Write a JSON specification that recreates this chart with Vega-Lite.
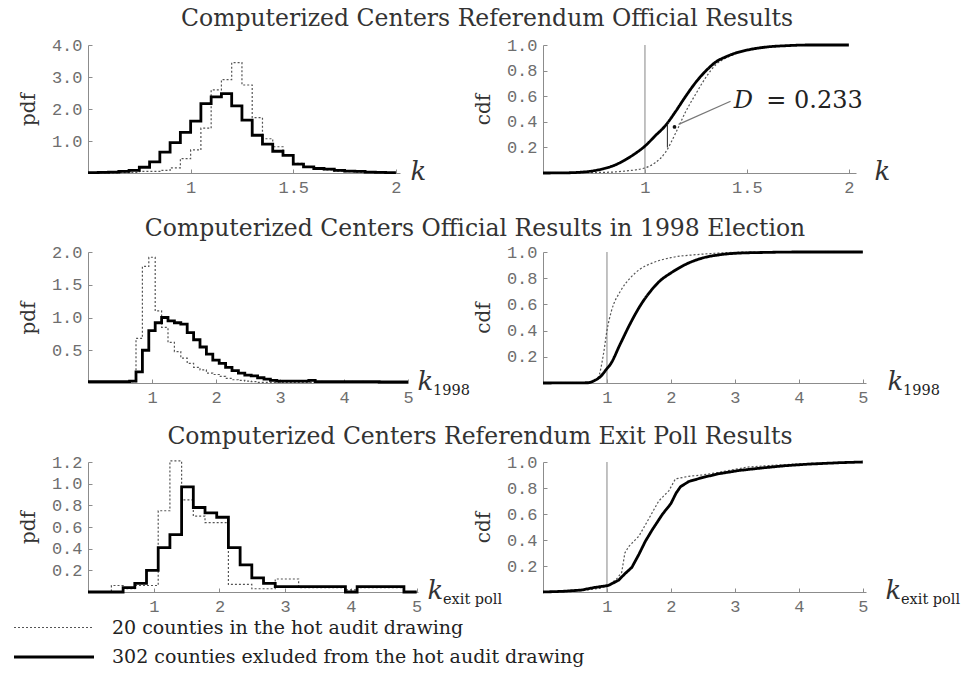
{
"$schema": "https://vega.github.io/schema/vega-lite/v6.json",
"background": "white",
"padding": {"left": 18, "top": 6, "right": 5, "bottom": 5},
"bounds": "flush",
"columns": 2,
"spacing": {"row": 79, "column": 125},
"datasets": {
"p1": [
{"x":0.5,"y":0,"g":"20"},{"x":0.55,"y":0,"g":"20"},{"x":0.6,"y":0,"g":"20"},{"x":0.65,"y":0.01,"g":"20"},{"x":0.7,"y":0.02,"g":"20"},{"x":0.75,"y":0.05,"g":"20"},{"x":0.8,"y":0.05,"g":"20"},{"x":0.85,"y":0.08,"g":"20"},{"x":0.9,"y":0.16,"g":"20"},{"x":0.95,"y":0.45,"g":"20"},{"x":1.0,"y":0.72,"g":"20"},{"x":1.05,"y":1.4,"g":"20"},{"x":1.1,"y":2.6,"g":"20"},{"x":1.15,"y":2.92,"g":"20"},{"x":1.2,"y":3.45,"g":"20"},{"x":1.25,"y":2.75,"g":"20"},{"x":1.3,"y":1.73,"g":"20"},{"x":1.35,"y":1.07,"g":"20"},{"x":1.4,"y":0.82,"g":"20"},{"x":1.45,"y":0.55,"g":"20"},{"x":1.5,"y":0.3,"g":"20"},{"x":1.55,"y":0.18,"g":"20"},{"x":1.6,"y":0.12,"g":"20"},{"x":1.65,"y":0.1,"g":"20"},{"x":1.7,"y":0.06,"g":"20"},{"x":1.75,"y":0.04,"g":"20"},{"x":1.8,"y":0.03,"g":"20"},{"x":1.85,"y":0.02,"g":"20"},{"x":1.9,"y":0.01,"g":"20"},{"x":1.95,"y":0,"g":"20"},{"x":2.0,"y":0,"g":"20"},
{"x":0.5,"y":0.01,"g":"302"},{"x":0.55,"y":0.02,"g":"302"},{"x":0.6,"y":0.03,"g":"302"},{"x":0.65,"y":0.05,"g":"302"},{"x":0.7,"y":0.08,"g":"302"},{"x":0.75,"y":0.18,"g":"302"},{"x":0.8,"y":0.35,"g":"302"},{"x":0.85,"y":0.65,"g":"302"},{"x":0.9,"y":0.95,"g":"302"},{"x":0.95,"y":1.27,"g":"302"},{"x":1.0,"y":1.62,"g":"302"},{"x":1.05,"y":2.17,"g":"302"},{"x":1.1,"y":2.38,"g":"302"},{"x":1.15,"y":2.48,"g":"302"},{"x":1.2,"y":2.1,"g":"302"},{"x":1.25,"y":1.65,"g":"302"},{"x":1.3,"y":1.18,"g":"302"},{"x":1.35,"y":0.9,"g":"302"},{"x":1.4,"y":0.68,"g":"302"},{"x":1.45,"y":0.55,"g":"302"},{"x":1.5,"y":0.28,"g":"302"},{"x":1.55,"y":0.19,"g":"302"},{"x":1.6,"y":0.14,"g":"302"},{"x":1.65,"y":0.12,"g":"302"},{"x":1.7,"y":0.08,"g":"302"},{"x":1.75,"y":0.06,"g":"302"},{"x":1.8,"y":0.05,"g":"302"},{"x":1.85,"y":0.03,"g":"302"},{"x":1.9,"y":0.02,"g":"302"},{"x":1.95,"y":0.01,"g":"302"},{"x":2.0,"y":0.01,"g":"302"}
],
"c1": [
{"x":0.5,"y":0,"g":"20"},{"x":0.8,"y":0.005,"g":"20"},{"x":0.9,"y":0.015,"g":"20"},{"x":1.0,"y":0.04,"g":"20"},{"x":1.05,"y":0.08,"g":"20"},{"x":1.1,"y":0.16,"g":"20"},{"x":1.15,"y":0.31,"g":"20"},{"x":1.2,"y":0.48,"g":"20"},{"x":1.25,"y":0.62,"g":"20"},{"x":1.3,"y":0.75,"g":"20"},{"x":1.35,"y":0.85,"g":"20"},{"x":1.4,"y":0.9,"g":"20"},{"x":1.45,"y":0.935,"g":"20"},{"x":1.5,"y":0.96,"g":"20"},{"x":1.6,"y":0.982,"g":"20"},{"x":1.7,"y":0.993,"g":"20"},{"x":1.8,"y":1.0,"g":"20"},{"x":2.0,"y":1.0,"g":"20"},
{"x":0.5,"y":0,"g":"302"},{"x":0.6,"y":0.001,"g":"302"},{"x":0.7,"y":0.008,"g":"302"},{"x":0.75,"y":0.018,"g":"302"},{"x":0.8,"y":0.035,"g":"302"},{"x":0.85,"y":0.06,"g":"302"},{"x":0.9,"y":0.1,"g":"302"},{"x":0.95,"y":0.15,"g":"302"},{"x":1.0,"y":0.21,"g":"302"},{"x":1.05,"y":0.29,"g":"302"},{"x":1.1,"y":0.37,"g":"302"},{"x":1.15,"y":0.48,"g":"302"},{"x":1.2,"y":0.6,"g":"302"},{"x":1.25,"y":0.71,"g":"302"},{"x":1.3,"y":0.8,"g":"302"},{"x":1.35,"y":0.87,"g":"302"},{"x":1.4,"y":0.91,"g":"302"},{"x":1.45,"y":0.94,"g":"302"},{"x":1.5,"y":0.96,"g":"302"},{"x":1.6,"y":0.985,"g":"302"},{"x":1.7,"y":0.995,"g":"302"},{"x":1.8,"y":1.0,"g":"302"},{"x":2.0,"y":1.0,"g":"302"}
],
"p2": [
{"x":0,"y":0.01,"g":"20"},{"x":0.65,"y":0.02,"g":"20"},{"x":0.75,"y":0.68,"g":"20"},{"x":0.85,"y":1.78,"g":"20"},{"x":0.95,"y":1.92,"g":"20"},{"x":1.05,"y":1.1,"g":"20"},{"x":1.15,"y":0.85,"g":"20"},{"x":1.25,"y":0.62,"g":"20"},{"x":1.35,"y":0.48,"g":"20"},{"x":1.45,"y":0.38,"g":"20"},{"x":1.55,"y":0.3,"g":"20"},{"x":1.65,"y":0.24,"g":"20"},{"x":1.75,"y":0.2,"g":"20"},{"x":1.85,"y":0.15,"g":"20"},{"x":1.95,"y":0.13,"g":"20"},{"x":2.05,"y":0.1,"g":"20"},{"x":2.15,"y":0.07,"g":"20"},{"x":2.25,"y":0.05,"g":"20"},{"x":2.35,"y":0.04,"g":"20"},{"x":2.45,"y":0.03,"g":"20"},{"x":2.55,"y":0.02,"g":"20"},{"x":2.65,"y":0.01,"g":"20"},{"x":5,"y":0.01,"g":"20"},
{"x":0,"y":0.02,"g":"302"},{"x":0.65,"y":0.03,"g":"302"},{"x":0.75,"y":0.17,"g":"302"},{"x":0.85,"y":0.5,"g":"302"},{"x":0.95,"y":0.8,"g":"302"},{"x":1.05,"y":0.92,"g":"302"},{"x":1.15,"y":1.0,"g":"302"},{"x":1.25,"y":0.95,"g":"302"},{"x":1.35,"y":0.92,"g":"302"},{"x":1.45,"y":0.9,"g":"302"},{"x":1.55,"y":0.77,"g":"302"},{"x":1.65,"y":0.66,"g":"302"},{"x":1.75,"y":0.55,"g":"302"},{"x":1.85,"y":0.44,"g":"302"},{"x":1.95,"y":0.35,"g":"302"},{"x":2.05,"y":0.3,"g":"302"},{"x":2.15,"y":0.24,"g":"302"},{"x":2.25,"y":0.19,"g":"302"},{"x":2.35,"y":0.15,"g":"302"},{"x":2.45,"y":0.12,"g":"302"},{"x":2.55,"y":0.11,"g":"302"},{"x":2.65,"y":0.08,"g":"302"},{"x":2.75,"y":0.06,"g":"302"},{"x":2.85,"y":0.04,"g":"302"},{"x":2.95,"y":0.03,"g":"302"},{"x":3.45,"y":0.04,"g":"302"},{"x":3.55,"y":0.02,"g":"302"},{"x":4.55,"y":0.015,"g":"302"},{"x":5,"y":0.015,"g":"302"}
],
"c2": [
{"x":0,"y":0,"g":"20"},{"x":0.7,"y":0.003,"g":"20"},{"x":0.76,"y":0.01,"g":"20"},{"x":0.86,"y":0.04,"g":"20"},{"x":0.945,"y":0.22,"g":"20"},{"x":1.0,"y":0.4,"g":"20"},{"x":1.07,"y":0.55,"g":"20"},{"x":1.21,"y":0.7,"g":"20"},{"x":1.36,"y":0.8,"g":"20"},{"x":1.52,"y":0.87,"g":"20"},{"x":1.73,"y":0.92,"g":"20"},{"x":2.0,"y":0.957,"g":"20"},{"x":2.4,"y":0.98,"g":"20"},{"x":2.8,"y":0.993,"g":"20"},{"x":3.2,"y":1.0,"g":"20"},{"x":5,"y":1.0,"g":"20"},
{"x":0,"y":0,"g":"302"},{"x":0.7,"y":0.002,"g":"302"},{"x":0.79,"y":0.015,"g":"302"},{"x":0.9,"y":0.05,"g":"302"},{"x":1.0,"y":0.11,"g":"302"},{"x":1.05,"y":0.14,"g":"302"},{"x":1.21,"y":0.3,"g":"302"},{"x":1.36,"y":0.45,"g":"302"},{"x":1.52,"y":0.59,"g":"302"},{"x":1.68,"y":0.7,"g":"302"},{"x":1.83,"y":0.78,"g":"302"},{"x":2.0,"y":0.84,"g":"302"},{"x":2.25,"y":0.91,"g":"302"},{"x":2.5,"y":0.955,"g":"302"},{"x":2.75,"y":0.978,"g":"302"},{"x":3.0,"y":0.99,"g":"302"},{"x":3.5,"y":0.997,"g":"302"},{"x":4.0,"y":1.0,"g":"302"},{"x":5,"y":1.0,"g":"302"}
],
"p3": [
{"x":0,"y":0,"g":"20"},{"x":0.356,"y":0.06,"g":"20"},{"x":0.534,"y":0.03,"g":"20"},{"x":0.712,"y":0.06,"g":"20"},{"x":0.89,"y":0.06,"g":"20"},{"x":1.068,"y":0.75,"g":"20"},{"x":1.246,"y":1.21,"g":"20"},{"x":1.424,"y":0.85,"g":"20"},{"x":1.602,"y":0.7,"g":"20"},{"x":1.78,"y":0.64,"g":"20"},{"x":1.958,"y":0.64,"g":"20"},{"x":2.136,"y":0.07,"g":"20"},{"x":2.314,"y":0.07,"g":"20"},{"x":2.492,"y":0.03,"g":"20"},{"x":2.67,"y":0.03,"g":"20"},{"x":2.848,"y":0.12,"g":"20"},{"x":3.026,"y":0.12,"g":"20"},{"x":3.204,"y":0.04,"g":"20"},{"x":3.916,"y":0.02,"g":"20"},{"x":4.094,"y":0.04,"g":"20"},{"x":4.806,"y":0,"g":"20"},{"x":5.0,"y":0,"g":"20"},
{"x":0,"y":0,"g":"302"},{"x":0.534,"y":0.04,"g":"302"},{"x":0.712,"y":0.08,"g":"302"},{"x":0.89,"y":0.2,"g":"302"},{"x":1.068,"y":0.41,"g":"302"},{"x":1.246,"y":0.53,"g":"302"},{"x":1.424,"y":0.97,"g":"302"},{"x":1.602,"y":0.78,"g":"302"},{"x":1.78,"y":0.73,"g":"302"},{"x":1.958,"y":0.69,"g":"302"},{"x":2.136,"y":0.41,"g":"302"},{"x":2.314,"y":0.25,"g":"302"},{"x":2.492,"y":0.13,"g":"302"},{"x":2.67,"y":0.08,"g":"302"},{"x":2.848,"y":0.05,"g":"302"},{"x":3.916,"y":0,"g":"302"},{"x":4.094,"y":0.05,"g":"302"},{"x":4.806,"y":0,"g":"302"},{"x":5.0,"y":0,"g":"302"}
],
"c3": [
{"x":0,"y":0,"g":"20"},{"x":0.6,"y":0.01,"g":"20"},{"x":0.9,"y":0.03,"g":"20"},{"x":1.02,"y":0.05,"g":"20"},{"x":1.15,"y":0.1,"g":"20"},{"x":1.23,"y":0.15,"g":"20"},{"x":1.28,"y":0.3,"g":"20"},{"x":1.34,"y":0.35,"g":"20"},{"x":1.5,"y":0.43,"g":"20"},{"x":1.65,"y":0.56,"g":"20"},{"x":1.81,"y":0.7,"g":"20"},{"x":1.97,"y":0.78,"g":"20"},{"x":2.07,"y":0.87,"g":"20"},{"x":2.28,"y":0.89,"g":"20"},{"x":2.49,"y":0.9,"g":"20"},{"x":2.75,"y":0.92,"g":"20"},{"x":3.18,"y":0.96,"g":"20"},{"x":3.6,"y":0.975,"g":"20"},{"x":4.2,"y":0.99,"g":"20"},{"x":5.0,"y":1.0,"g":"20"},
{"x":0,"y":0,"g":"302"},{"x":0.3,"y":0.005,"g":"302"},{"x":0.6,"y":0.015,"g":"302"},{"x":0.81,"y":0.035,"g":"302"},{"x":1.02,"y":0.05,"g":"302"},{"x":1.1,"y":0.07,"g":"302"},{"x":1.18,"y":0.09,"g":"302"},{"x":1.28,"y":0.14,"g":"302"},{"x":1.39,"y":0.19,"g":"302"},{"x":1.5,"y":0.29,"g":"302"},{"x":1.6,"y":0.39,"g":"302"},{"x":1.71,"y":0.48,"g":"302"},{"x":1.87,"y":0.6,"g":"302"},{"x":2.0,"y":0.68,"g":"302"},{"x":2.08,"y":0.76,"g":"302"},{"x":2.15,"y":0.81,"g":"302"},{"x":2.28,"y":0.85,"g":"302"},{"x":2.49,"y":0.88,"g":"302"},{"x":2.75,"y":0.91,"g":"302"},{"x":3.07,"y":0.935,"g":"302"},{"x":3.44,"y":0.955,"g":"302"},{"x":3.8,"y":0.972,"g":"302"},{"x":4.13,"y":0.983,"g":"302"},{"x":4.65,"y":0.995,"g":"302"},{"x":5.0,"y":1.0,"g":"302"}
]
},
"concat": [
{"width": 312, "height": 128,
"title": {"text": "Computerized Centers Referendum Official Results", "dx": 243, "offset": 6},
"layer": [
{"data": {"name": "p1"}, "mark": {"type": "line", "interpolate": "step-after"},
"encoding": {
"x": {"field": "x", "type": "quantitative", "scale": {"domain": [0.5, 2.02], "nice": false, "zero": false}, "axis": {"values": [1, 1.5, 2], "tickCount": 20, "format": "~g", "title": "k", "titleX": 322, "labelOverlap": false}},
"y": {"field": "y", "type": "quantitative", "scale": {"domain": [0, 4], "nice": false}, "axis": {"values": [1, 2, 3, 4], "tickCount": 20, "format": ".1f", "title": "pdf", "labelOverlap": false}},
"color": {"field": "g", "type": "ordinal", "scale": {"domain": ["20", "302"], "range": ["#555555", "#000000"]}, "legend": {"title": null, "orient": "none", "legendX": -45.5, "legendY": 571.5, "labelExpr": "datum.label == '20' ? '20 counties in the hot audit drawing' : '302 counties exluded from the hot audit drawing'"}},
"strokeDash": {"field": "g", "type": "ordinal", "scale": {"domain": ["20", "302"], "range": [[2, 2], [1, 0]]}, "legend": {"title": null, "orient": "none", "legendX": -45.5, "legendY": 571.5, "labelExpr": "datum.label == '20' ? '20 counties in the hot audit drawing' : '302 counties exluded from the hot audit drawing'"}},
"strokeWidth": {"field": "g", "type": "ordinal", "scale": {"domain": ["20", "302"], "range": [1.2, 2.8]}, "legend": {"title": null, "orient": "none", "legendX": -45.5, "legendY": 571.5, "labelExpr": "datum.label == '20' ? '20 counties in the hot audit drawing' : '302 counties exluded from the hot audit drawing'"}}
}}
]},
{"width": 313, "height": 128,
"layer": [
{"data": {"values": [{}]}, "mark": {"type": "rule", "color": "#999999", "strokeWidth": 1.2}, "encoding": {"x": {"datum": 1}, "y": {"datum": 0}, "y2": {"datum": 1}}},
{"data": {"name": "c1"}, "mark": {"type": "line", "interpolate": "monotone"},
"encoding": {
"x": {"field": "x", "type": "quantitative", "scale": {"domain": [0.5, 2.035], "nice": false, "zero": false}, "axis": {"values": [1, 1.5, 2], "tickCount": 20, "format": "~g", "title": "k", "titleX": 331, "labelOverlap": false}},
"y": {"field": "y", "type": "quantitative", "scale": {"domain": [0, 1], "nice": false}, "axis": {"values": [0.2, 0.4, 0.6, 0.8, 1], "tickCount": 20, "format": ".1f", "title": "cdf", "labelOverlap": false}},
"color": {"field": "g", "type": "ordinal", "scale": {"domain": ["20", "302"], "range": ["#555555", "#000000"]}},
"strokeDash": {"field": "g", "type": "ordinal", "scale": {"domain": ["20", "302"], "range": [[2, 2], [1, 0]]}},
"strokeWidth": {"field": "g", "type": "ordinal", "scale": {"domain": ["20", "302"], "range": [1.2, 2.8]}}
}},
{"data": {"values": [{}]}, "mark": {"type": "rule", "color": "#222222", "strokeWidth": 1}, "encoding": {"x": {"datum": 1.11}, "y": {"datum": 0.2}, "y2": {"datum": 0.385}}},
{"data": {"values": [{}]}, "mark": {"type": "rule", "color": "#777777", "strokeWidth": 1.2}, "encoding": {"x": {"datum": 1.165}, "y": {"datum": 0.38}, "x2": {"datum": 1.42}, "y2": {"datum": 0.56}}},
{"data": {"values": [{}]}, "mark": {"type": "point", "filled": true, "color": "#111111", "size": 14, "opacity": 1}, "encoding": {"x": {"datum": 1.145}, "y": {"datum": 0.36}}},
{"data": {"values": [{}]}, "mark": {"type": "text", "align": "left", "baseline": "alphabetic", "font": "DejaVu Serif", "fontStyle": "italic", "fontSize": 24, "color": "#222222"}, "encoding": {"x": {"datum": 1.435}, "y": {"datum": 0.505}, "text": {"value": "D"}}},
{"data": {"values": [{}]}, "mark": {"type": "text", "align": "left", "baseline": "alphabetic", "font": "DejaVu Serif", "fontSize": 24, "color": "#222222"}, "encoding": {"x": {"datum": 1.595}, "y": {"datum": 0.505}, "text": {"value": "= 0.233"}}}
]},
{"width": 320, "height": 131,
"title": {"text": "Computerized Centers Official Results in 1998 Election", "dx": 227, "offset": 3},
"layer": [
{"data": {"name": "p2"}, "mark": {"type": "line", "interpolate": "step-after"},
"encoding": {
"x": {"field": "x", "type": "quantitative", "scale": {"domain": [0, 5], "nice": false, "zero": false}, "axis": {"values": [1, 2, 3, 4, 5], "tickCount": 20, "format": "~g", "title": "k", "titleX": 329, "labelOverlap": false}},
"y": {"field": "y", "type": "quantitative", "scale": {"domain": [0, 2], "nice": false}, "axis": {"values": [0.5, 1, 1.5, 2], "tickCount": 20, "format": ".1f", "title": "pdf", "labelOverlap": false}},
"color": {"field": "g", "type": "ordinal", "scale": {"domain": ["20", "302"], "range": ["#555555", "#000000"]}},
"strokeDash": {"field": "g", "type": "ordinal", "scale": {"domain": ["20", "302"], "range": [[2, 2], [1, 0]]}},
"strokeWidth": {"field": "g", "type": "ordinal", "scale": {"domain": ["20", "302"], "range": [1.2, 2.8]}}
}},
{"data": {"values": [{}]}, "mark": {"type": "text", "align": "left", "baseline": "alphabetic", "dx": 25, "dy": 12, "font": "DejaVu Serif", "fontSize": 14.5, "color": "#222222"}, "encoding": {"x": {"datum": 5}, "y": {"datum": 0}, "text": {"value": "1998"}}}
]},
{"width": 323, "height": 131,
"layer": [
{"data": {"values": [{}]}, "mark": {"type": "rule", "color": "#999999", "strokeWidth": 1.2}, "encoding": {"x": {"datum": 1}, "y": {"datum": 0}, "y2": {"datum": 1}}},
{"data": {"name": "c2"}, "mark": {"type": "line", "interpolate": "monotone"},
"encoding": {
"x": {"field": "x", "type": "quantitative", "scale": {"domain": [0, 5.05], "nice": false, "zero": false}, "axis": {"values": [1, 2, 3, 4, 5], "tickCount": 20, "format": "~g", "title": "k", "titleX": 344, "labelOverlap": false}},
"y": {"field": "y", "type": "quantitative", "scale": {"domain": [0, 1], "nice": false}, "axis": {"values": [0.2, 0.4, 0.6, 0.8, 1], "tickCount": 20, "format": ".1f", "title": "cdf", "labelOverlap": false}},
"color": {"field": "g", "type": "ordinal", "scale": {"domain": ["20", "302"], "range": ["#555555", "#000000"]}},
"strokeDash": {"field": "g", "type": "ordinal", "scale": {"domain": ["20", "302"], "range": [[2, 2], [1, 0]]}},
"strokeWidth": {"field": "g", "type": "ordinal", "scale": {"domain": ["20", "302"], "range": [1.2, 2.8]}}
}},
{"data": {"values": [{}]}, "mark": {"type": "text", "align": "left", "baseline": "alphabetic", "dx": 37, "dy": 12, "font": "DejaVu Serif", "fontSize": 14.5, "color": "#222222"}, "encoding": {"x": {"datum": 5.05}, "y": {"datum": 0}, "text": {"value": "1998"}}}
]},
{"width": 330, "height": 130,
"title": {"text": "Computerized Centers Referendum Exit Poll Results", "dx": 227, "offset": 5},
"layer": [
{"data": {"name": "p3"}, "mark": {"type": "line", "interpolate": "step-after"},
"encoding": {
"x": {"field": "x", "type": "quantitative", "scale": {"domain": [0, 5.02], "nice": false, "zero": false}, "axis": {"values": [1, 2, 3, 4, 5], "tickCount": 20, "format": "~g", "title": "k", "titleX": 339, "labelOverlap": false}},
"y": {"field": "y", "type": "quantitative", "scale": {"domain": [0, 1.2], "nice": false}, "axis": {"values": [0.2, 0.4, 0.6, 0.8, 1, 1.2], "tickCount": 20, "format": ".1f", "title": "pdf", "labelOverlap": false}},
"color": {"field": "g", "type": "ordinal", "scale": {"domain": ["20", "302"], "range": ["#555555", "#000000"]}},
"strokeDash": {"field": "g", "type": "ordinal", "scale": {"domain": ["20", "302"], "range": [[2, 2], [1, 0]]}},
"strokeWidth": {"field": "g", "type": "ordinal", "scale": {"domain": ["20", "302"], "range": [1.2, 2.8]}}
}},
{"data": {"values": [{}]}, "mark": {"type": "text", "align": "left", "baseline": "alphabetic", "dx": 25, "dy": 12, "font": "DejaVu Serif", "fontSize": 14.5, "color": "#222222"}, "encoding": {"x": {"datum": 5.02}, "y": {"datum": 0}, "text": {"value": "exit poll"}}}
]},
{"width": 323, "height": 130,
"layer": [
{"data": {"values": [{}]}, "mark": {"type": "rule", "color": "#999999", "strokeWidth": 1.2}, "encoding": {"x": {"datum": 1}, "y": {"datum": 0}, "y2": {"datum": 1}}},
{"data": {"name": "c3"}, "mark": {"type": "line", "interpolate": "linear"},
"encoding": {
"x": {"field": "x", "type": "quantitative", "scale": {"domain": [0, 5.05], "nice": false, "zero": false}, "axis": {"values": [1, 2, 3, 4, 5], "tickCount": 20, "format": "~g", "title": "k", "titleX": 342, "labelOverlap": false}},
"y": {"field": "y", "type": "quantitative", "scale": {"domain": [0, 1], "nice": false}, "axis": {"values": [0.2, 0.4, 0.6, 0.8, 1], "tickCount": 20, "format": ".1f", "title": "cdf", "labelOverlap": false}},
"color": {"field": "g", "type": "ordinal", "scale": {"domain": ["20", "302"], "range": ["#555555", "#000000"]}},
"strokeDash": {"field": "g", "type": "ordinal", "scale": {"domain": ["20", "302"], "range": [[2, 2], [1, 0]]}},
"strokeWidth": {"field": "g", "type": "ordinal", "scale": {"domain": ["20", "302"], "range": [1.2, 2.8]}}
}},
{"data": {"values": [{}]}, "mark": {"type": "text", "align": "left", "baseline": "alphabetic", "dx": 35, "dy": 12, "font": "DejaVu Serif", "fontSize": 14.5, "color": "#222222"}, "encoding": {"x": {"datum": 5.05}, "y": {"datum": 0}, "text": {"value": "exit poll"}}}
]}
],
"config": {
"view": {"stroke": null},
"axis": {"grid": false, "domainColor": "#8c8c8c", "domainWidth": 1, "tickColor": "#8c8c8c", "tickSize": -4, "tickWidth": 1, "labelFont": "Liberation Mono", "labelFontSize": 17, "labelColor": "#6e6e6e", "titleFont": "DejaVu Serif", "titleFontWeight": "normal", "titleColor": "#333333", "labelOverlap": false},
"axisQuantitative": {"tickCount": 20},
"axisX": {"labelPadding": 10, "labelFlush": false, "titleAngle": 0, "titleAlign": "left", "titleBaseline": "alphabetic", "titleY": 6, "titleFontStyle": "italic", "titleFontSize": 26},
"axisY": {"labelPadding": 10, "titleX": -60, "titleAngle": -90, "titleBaseline": "middle", "titleAlign": "center", "titleFontSize": 20},
"legend": {"symbolType": "M-4,0L4,0", "symbolSize": 400, "labelFont": "DejaVu Serif", "labelFontSize": 19, "labelColor": "#222222", "labelLimit": 0, "rowPadding": 8, "labelOffset": 46.5, "padding": 0},
"title": {"font": "DejaVu Serif", "fontSize": 23.5, "fontWeight": "normal", "color": "#333333", "anchor": "middle", "frame": "group", "baseline": "alphabetic"}
}
}
